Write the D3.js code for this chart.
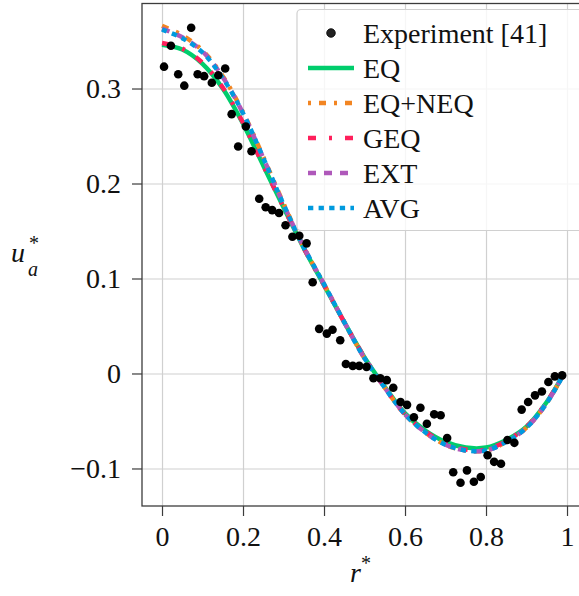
<!DOCTYPE html>
<html>
<head>
<meta charset="utf-8">
<script src="https://cdn.jsdelivr.net/npm/d3@7"></script>
<style>
  body { margin: 0; background: #fff; }
  svg { display: block; font-family: "Liberation Serif", "DejaVu Serif", serif; }
</style>
</head>
<body>
<svg id="chart"></svg>
<script>
// experiment [41]
const expR = [0.005, 0.022, 0.040, 0.055, 0.072, 0.088, 0.104, 0.123, 0.139, 0.156,
  0.172, 0.188, 0.207, 0.221, 0.240, 0.256, 0.272, 0.289, 0.305, 0.322,
  0.339, 0.357, 0.372, 0.388, 0.407, 0.421, 0.440, 0.454, 0.471, 0.487,
  0.505, 0.522, 0.539, 0.555, 0.571, 0.589, 0.605, 0.622, 0.638, 0.654,
  0.672, 0.688, 0.704, 0.719, 0.737, 0.753, 0.770, 0.787, 0.804, 0.820,
  0.837, 0.853, 0.870, 0.888, 0.904, 0.921, 0.938, 0.954, 0.970, 0.988];
const expU = [0.323, 0.345, 0.315, 0.303, 0.364, 0.315, 0.313, 0.306, 0.314, 0.321,
  0.273, 0.239, 0.260, 0.234, 0.184, 0.175, 0.172, 0.169, 0.156, 0.144,
  0.145, 0.137, 0.096, 0.047, 0.042, 0.046, 0.035, 0.010, 0.008, 0.008,
  0.007, -0.005, -0.005, -0.007, -0.015, -0.030, -0.033, -0.046, -0.036, -0.053,
  -0.043, -0.044, -0.068, -0.104, -0.115, -0.102, -0.114, -0.109, -0.086, -0.093,
  -0.095, -0.070, -0.073, -0.038, -0.030, -0.023, -0.019, -0.009, -0.003, -0.002];

// model curves
const rGrid = [0, 0.05, 0.1, 0.15, 0.2, 0.25, 0.3, 0.35, 0.4, 0.45, 0.5,
  0.55, 0.6, 0.65, 0.7, 0.75, 0.8, 0.85, 0.9, 0.95, 0.99];
const uEQ = [0.346, 0.341, 0.326, 0.300, 0.263, 0.219, 0.175, 0.132, 0.093, 0.054, 0.017,
  -0.014, -0.042, -0.060, -0.072, -0.078, -0.078, -0.070, -0.056, -0.030, -0.002];
const uEQNEQ = [0.366, 0.356, 0.340, 0.313, 0.275, 0.228, 0.179, 0.133, 0.094, 0.054, 0.016,
  -0.015, -0.043, -0.062, -0.075, -0.081, -0.081, -0.072, -0.057, -0.031, -0.002];
const uGEQ = [0.348, 0.342, 0.327, 0.301, 0.264, 0.219, 0.175, 0.132, 0.093, 0.054, 0.017,
  -0.015, -0.043, -0.061, -0.074, -0.080, -0.080, -0.071, -0.056, -0.030, -0.002];
const uEXT = [0.363, 0.354, 0.339, 0.312, 0.274, 0.227, 0.178, 0.133, 0.094, 0.054, 0.016,
  -0.015, -0.043, -0.062, -0.075, -0.081, -0.081, -0.072, -0.057, -0.031, -0.002];
const uAVG = [0.362, 0.353, 0.338, 0.311, 0.274, 0.227, 0.178, 0.133, 0.094, 0.054, 0.016,
  -0.015, -0.043, -0.062, -0.075, -0.081, -0.081, -0.072, -0.057, -0.031, -0.002];

const xTicks = [0, 0.2, 0.4, 0.6, 0.8, 1];
const xTickLabels = ["0", "0.2", "0.4", "0.6", "0.8", "1"];
const yTicks = [-0.1, 0, 0.1, 0.2, 0.3];
const yTickLabels = ["\u22120.1", "0", "0.1", "0.2", "0.3"];

const series = [
  { name: "EQ", values: uEQ, color: "#00CD6C", dash: null, offset: 0 },
  { name: "EQ+NEQ", values: uEQNEQ, color: "#F28522", dash: "7,8,3,8", offset: 15 },
  { name: "GEQ", values: uGEQ, color: "#FF1F5B", dash: "8,13,3,13", offset: 0 },
  { name: "EXT", values: uEXT, color: "#AF58BA", dash: "8,8", offset: 0 },
  { name: "AVG", values: uAVG, color: "#009ADE", dash: "5.3,5.3", offset: 0 }
];

const width = 579, height = 596;
const margin = { left: 142, top: 3.5 };
const iw = 443, ih = 502.5;

const svg = d3.select("#chart").attr("width", width).attr("height", height);
const g = svg.append("g").attr("transform", `translate(${margin.left},${margin.top})`);

const x = d3.scaleLinear().domain([-0.0494, 1.0444]).range([0, iw]);
const y = d3.scaleLinear().domain([0.3895, -0.1395]).range([0, ih]);

// grid
g.append("g")
  .attr("transform", `translate(0,${ih})`)
  .call(d3.axisBottom(x).tickValues(xTicks).tickSize(-ih).tickFormat(""))
  .call(a => a.select(".domain").remove())
  .selectAll("line").attr("stroke", "#d0d0d0").attr("stroke-width", 1.2);
g.append("g")
  .call(d3.axisLeft(y).tickValues(yTicks).tickSize(-iw).tickFormat(""))
  .call(a => a.select(".domain").remove())
  .selectAll("line").attr("stroke", "#d0d0d0").attr("stroke-width", 1.2);

// curves
const line = d3.line()
  .x((d, i) => x(rGrid[i]))
  .y(d => y(d))
  .curve(d3.curveCatmullRom.alpha(0.5));

series.forEach(s => {
  g.append("path")
    .datum(s.values)
    .attr("d", line)
    .attr("fill", "none")
    .attr("stroke", s.color)
    .attr("stroke-width", 4.5)
    .attr("stroke-dasharray", s.dash)
    .attr("stroke-linecap", "butt");
});

// experiment points
g.selectAll("circle.exp")
  .data(expR)
  .enter()
  .append("circle")
  .attr("class", "exp")
  .attr("cx", d => x(d))
  .attr("cy", (d, i) => y(expU[i]))
  .attr("r", 4.3)
  .attr("fill", "#000");

// frame
g.append("rect")
  .attr("width", iw).attr("height", ih)
  .attr("fill", "none")
  .attr("stroke", "#3c3c3c")
  .attr("stroke-width", 1.3);

// axes
const xAxis = g.append("g")
  .attr("transform", `translate(0,${ih})`)
  .call(d3.axisBottom(x).tickValues(xTicks).tickSize(10).tickSizeOuter(0).tickPadding(10)
    .tickFormat((d, i) => xTickLabels[i]));
const yAxis = g.append("g")
  .call(d3.axisLeft(y).tickValues(yTicks).tickSize(10).tickSizeOuter(0).tickPadding(11)
    .tickFormat((d, i) => yTickLabels[i]));
[xAxis, yAxis].forEach(a => {
  a.select(".domain").remove();
  a.selectAll("line").attr("stroke", "#3c3c3c").attr("stroke-width", 1.2);
  a.selectAll("text")
    .attr("fill", "#111")
    .style("font-family", "'Liberation Serif', serif")
    .style("font-size", "28px");
});

// axis labels
const xl = svg.append("text")
  .attr("x", 350).attr("y", 582)
  .attr("fill", "#111")
  .style("font-size", "28px");
xl.append("tspan").style("font-style", "italic").text("r");
xl.append("tspan").attr("dy", -12).style("font-size", "20px").text("*");

svg.append("text").attr("x", 11).attr("y", 262).attr("fill", "#111")
  .style("font-size", "28px").style("font-style", "italic").text("u");
svg.append("text").attr("x", 29).attr("y", 250).attr("fill", "#111")
  .style("font-size", "20px").text("*");
svg.append("text").attr("x", 28).attr("y", 276).attr("fill", "#111")
  .style("font-size", "20px").style("font-style", "italic").text("a");

// legend
const lg = svg.append("g");
lg.append("rect")
  .attr("x", 297).attr("y", 9.5)
  .attr("width", 300).attr("height", 221)
  .attr("rx", 4)
  .attr("fill", "#fff").attr("fill-opacity", 0.8)
  .attr("stroke", "#d0d0d0").attr("stroke-width", 1.2);

const rowY = [33, 68, 103, 138, 173, 208];
const hx0 = 308, hx1 = 354, tx = 363;

lg.append("circle").attr("cx", 331).attr("cy", rowY[0]).attr("r", 4.3)
  .attr("fill", "#222").attr("stroke", "#000").attr("stroke-width", 0.8);
lg.append("text").attr("x", tx).attr("y", rowY[0] + 9.5).attr("fill", "#111")
  .style("font-size", "28px").text("Experiment [41]");

series.forEach((s, i) => {
  const cy = rowY[i + 1];
  lg.append("line")
    .attr("x1", hx0).attr("x2", hx1).attr("y1", cy).attr("y2", cy)
    .attr("stroke", s.color).attr("stroke-width", 4.5)
    .attr("stroke-dasharray", s.dash)
    .attr("stroke-dashoffset", s.offset);
  lg.append("text").attr("x", tx).attr("y", cy + 9.5).attr("fill", "#111")
    .style("font-size", "28px").text(s.name);
});
</script>
</body>
</html>
